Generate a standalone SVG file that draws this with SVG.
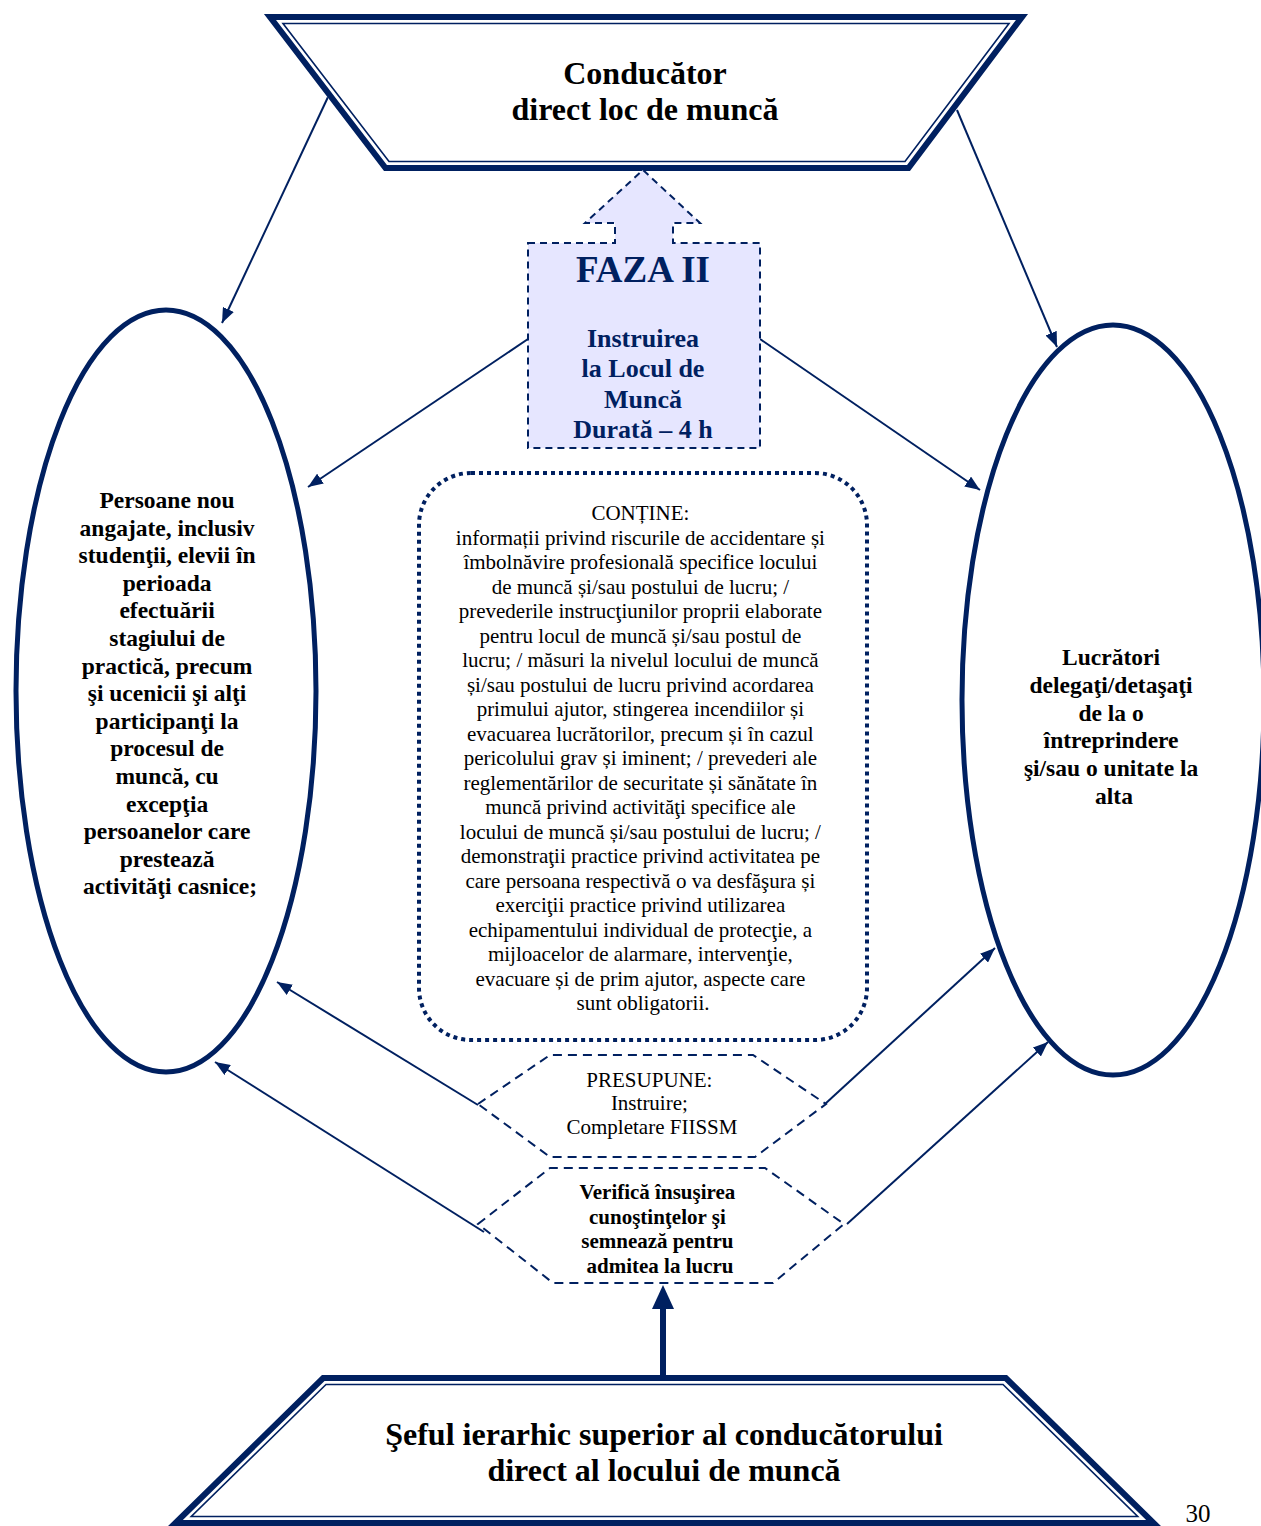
<svg xmlns="http://www.w3.org/2000/svg" width="1261" height="1526" viewBox="0 0 1261 1526">
<defs>
<style>
.thick{fill:none;stroke:#002060;stroke-width:6;stroke-linejoin:miter}
.thin{fill:none;stroke:#002060;stroke-width:1.6}
.ell{fill:#fff;stroke:#002060;stroke-width:5}
.conn{stroke:#002060;stroke-width:2;fill:none}
.hex{fill:#fff;stroke:#002060;stroke-width:2;stroke-dasharray:9,6}
.t{font-family:"Liberation Serif","Times New Roman",serif;text-anchor:middle;fill:#000}
.b{font-weight:bold}
.navy{fill:#002060}
</style>
<marker id="ah" markerUnits="userSpaceOnUse" markerWidth="16" markerHeight="12" refX="15" refY="6" orient="auto">
<path d="M0,0 L15,6 L0,12 z" fill="#002060"/>
</marker>
</defs>
<rect width="1261" height="1526" fill="#fff"/>

<g id="connectors">
<line class="conn" x1="328" y1="97" x2="222" y2="323" marker-end="url(#ah)"/>
<line class="conn" x1="957" y1="110" x2="1057" y2="347" marker-end="url(#ah)"/>
<line class="conn" x1="528" y1="339" x2="308" y2="487" marker-end="url(#ah)"/>
<line class="conn" x1="760" y1="339" x2="980" y2="490" marker-end="url(#ah)"/>
<line class="conn" x1="478" y1="1105" x2="277" y2="982" marker-end="url(#ah)"/>
<line class="conn" x1="484" y1="1232" x2="215" y2="1062" marker-end="url(#ah)"/>
<line class="conn" x1="825" y1="1104" x2="995" y2="948" marker-end="url(#ah)"/>
<line class="conn" x1="847" y1="1224" x2="1048" y2="1042" marker-end="url(#ah)"/>
<line x1="663" y1="1376" x2="663" y2="1305" stroke="#002060" stroke-width="6"/>
<polygon points="663,1285 652,1309 674,1309" fill="#002060"/>
</g>

<g id="top-node">
<polygon points="264,14 1028,14 910,171 384,171" fill="#fff"/>
<polygon class="thick" points="270,17 1022,17 908.5,168 385.5,168"/>
<polygon class="thin" points="283,23.5 1009,23.5 905,161.5 389,161.5"/>
<text class="t b" x="645" y="84" font-size="32">Conducător</text>
<text class="t b" x="645" y="120" font-size="32">direct loc de muncă</text>
</g>

<g id="faza">
<polygon points="528,243 615,243 615,223 585,223 643,170 700,223 673,223 673,243 760,243 760,448 528,448" fill="#e6e6ff" stroke="#002060" stroke-width="2" stroke-dasharray="7,5"/>
<text class="t b navy" x="643" y="282" font-size="37">FAZA II</text>
<text class="t b navy" x="643" y="347" font-size="26">Instruirea</text>
<text class="t b navy" x="643" y="377" font-size="26">la Locul de</text>
<text class="t b navy" x="643" y="408" font-size="26">Muncă</text>
<text class="t b navy" x="643" y="438" font-size="26">Durată – 4 h</text>
</g>

<g id="left-ellipse">
<ellipse class="ell" cx="166" cy="691" rx="150" ry="381"/>
<text class="t b" font-size="23.5">
<tspan x="170" y="508">Persoane nou</tspan>
<tspan x="170" y="535.6">angajate, inclusiv</tspan>
<tspan x="170" y="563.2">studenţii, elevii în</tspan>
<tspan x="170" y="590.8">perioada</tspan>
<tspan x="170" y="618.4">efectuării</tspan>
<tspan x="170" y="646">stagiului de</tspan>
<tspan x="170" y="673.6">practică, precum</tspan>
<tspan x="170" y="701.2">şi ucenicii şi alţi</tspan>
<tspan x="170" y="728.8">participanţi la</tspan>
<tspan x="170" y="756.4">procesul de</tspan>
<tspan x="170" y="784">muncă, cu</tspan>
<tspan x="170" y="811.6">excepţia</tspan>
<tspan x="170" y="839.2">persoanelor care</tspan>
<tspan x="170" y="866.8">prestează</tspan>
<tspan x="170" y="894.4">activităţi casnice;</tspan>
</text>
</g>

<g id="right-ellipse">
<ellipse class="ell" cx="1113" cy="700" rx="151" ry="375"/>
<text class="t b" font-size="23.5">
<tspan x="1114" y="665">Lucrători</tspan>
<tspan x="1114" y="693">delegaţi/detaşaţi</tspan>
<tspan x="1114" y="721">de la o</tspan>
<tspan x="1114" y="748">întreprindere</tspan>
<tspan x="1114" y="776">şi/sau o unitate la</tspan>
<tspan x="1114" y="804">alta</tspan>
</text>
</g>

<g id="contine">
<rect x="419" y="473" width="448" height="567" rx="52" ry="52" fill="#fff" stroke="#002060" stroke-width="4" stroke-dasharray="4,4"/>
<text class="t" font-size="21">
<tspan x="643" y="520">CONȚINE:</tspan>
<tspan x="643" y="544.5">informații privind riscurile de accidentare și</tspan>
<tspan x="643" y="569">îmbolnăvire profesională specifice locului</tspan>
<tspan x="643" y="593.5">de muncă și/sau postului de lucru; /</tspan>
<tspan x="643" y="618">prevederile instrucţiunilor proprii elaborate</tspan>
<tspan x="643" y="642.5">pentru locul de muncă și/sau postul de</tspan>
<tspan x="643" y="667">lucru; / măsuri la nivelul locului de muncă</tspan>
<tspan x="643" y="691.5">și/sau postului de lucru privind acordarea</tspan>
<tspan x="643" y="716">primului ajutor, stingerea incendiilor și</tspan>
<tspan x="643" y="740.5">evacuarea lucrătorilor, precum și în cazul</tspan>
<tspan x="643" y="765">pericolului grav și iminent; / prevederi ale</tspan>
<tspan x="643" y="789.5">reglementărilor de securitate și sănătate în</tspan>
<tspan x="643" y="814">muncă privind activităţi specifice ale</tspan>
<tspan x="643" y="838.5">locului de muncă și/sau postului de lucru; /</tspan>
<tspan x="643" y="863">demonstraţii practice privind activitatea pe</tspan>
<tspan x="643" y="887.5">care persoana respectivă o va desfăşura și</tspan>
<tspan x="643" y="912">exerciţii practice privind utilizarea</tspan>
<tspan x="643" y="936.5">echipamentului individual de protecţie, a</tspan>
<tspan x="643" y="961">mijloacelor de alarmare, intervenţie,</tspan>
<tspan x="643" y="985.5">evacuare și de prim ajutor, aspecte care</tspan>
<tspan x="643" y="1010">sunt obligatorii.</tspan>
</text>
</g>

<g id="presupune">
<polygon class="hex" points="478,1104 550,1055 753,1055 826,1104 755,1157 550,1157"/>
<text class="t" font-size="21">
<tspan x="652" y="1087">PRESUPUNE:</tspan>
<tspan x="652" y="1110">Instruire;</tspan>
<tspan x="652" y="1134">Completare FIISSM</tspan>
</text>
</g>

<g id="verifica">
<polygon class="hex" points="478,1224 550,1168 765,1168 844,1224 773,1283 553,1283"/>
<text class="t b" font-size="21">
<tspan x="660" y="1199">Verifică însuşirea</tspan>
<tspan x="660" y="1224">cunoştinţelor şi</tspan>
<tspan x="660" y="1248">semnează pentru</tspan>
<tspan x="660" y="1273">admitea la lucru</tspan>
</text>
</g>

<g id="bottom-node">
<polygon points="322,1375 1007,1375 1161,1526 168,1526" fill="#fff"/>
<polygon class="thick" points="323.2,1378 1005.8,1378 1153.6,1523 175.4,1523"/>
<polygon class="thin" points="326,1384.5 1003,1384.5 1137.7,1516.5 191.3,1516.5"/>
<text class="t b" x="664" y="1445" font-size="32">Şeful ierarhic superior al conducătorului</text>
<text class="t b" x="664" y="1481" font-size="32">direct al locului de muncă</text>
</g>

<text class="t" x="1198" y="1522" font-size="25">30</text>
</svg>
